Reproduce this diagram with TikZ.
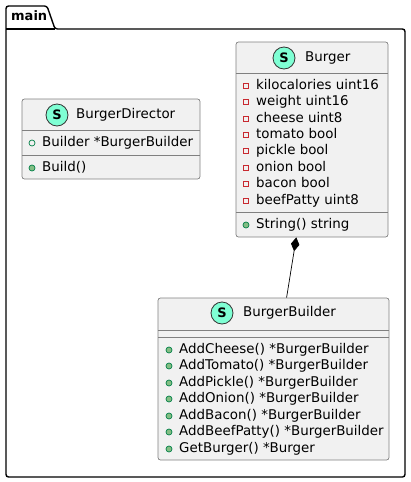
\documentclass[tikz,border=0pt]{standalone}
\usepackage{fontspec}
\setmainfont{DejaVu Sans}
\usetikzlibrary{arrows.meta}

\definecolor{boxfill}{HTML}{F1F1F1}
\definecolor{boxline}{HTML}{808080}
\definecolor{spotfill}{HTML}{7FFFD4}
\definecolor{privline}{HTML}{C82930}
\definecolor{publine}{HTML}{038048}
\definecolor{pubfill}{HTML}{84BE84}

\begin{document}
\begin{tikzpicture}[x=1pt,y=-1pt]
  \tikzset{
    class box/.style={draw=boxline, fill=boxfill, line width=0.7pt, rounded corners=2.5pt, inner sep=0},
    spot/.style={circle, draw=black!80, fill=spotfill, line width=0.8pt, minimum size=22pt, inner sep=0, font=\fontsize{13}{13}\selectfont\bfseries},
    row/.style={anchor=west, inner sep=0, text height=10.5pt, text depth=3pt, font=\fontsize{13.4}{15}\selectfont},
    priv/.style={rectangle, draw=privline, line width=0.7pt, minimum size=5.5pt, inner sep=0},
    pub/.style={circle, draw=publine, fill=pubfill, line width=0.7pt, minimum size=6pt, inner sep=0},
    pubfield/.style={circle, draw=publine, fill=none, line width=0.7pt, minimum size=6pt, inner sep=0},
    thin arc/.style={-{Diamond[length=14pt,width=8.5pt]}, black, line width=0.7pt}
  }
  \useasboundingbox (0,0) rectangle (411,482);

  % package
  \draw[black, line width=1.4pt, rounded corners=2.5pt]
    (6,29) -- (6,6) -- (47,6) -- (55,29) -- (405,29) -- (405,477) -- (6,477) -- cycle;
  \draw[black, line width=1.4pt] (6,29) -- (55,29);
  \node[row, font=\fontsize{13}{15}\selectfont\bfseries] (main) at (11,17) {main};

  % classes
  \node[class box, minimum width=178pt, minimum height=80pt] (director) at (111,139) {};
  \node[class box, minimum width=152pt, minimum height=195pt] (burger) at (312,139.5) {};
  \node[class box, minimum width=231pt, minimum height=162pt] (builder) at (273.5,379) {};

  \draw[boxline, line width=0.7pt] (22,130) -- (200,130);
  \draw[boxline, line width=0.7pt] (22,155) -- (200,155);
  \draw[boxline, line width=0.7pt] (236,73) -- (388,73);
  \draw[boxline, line width=0.7pt] (236,212.5) -- (388,212.5);
  \draw[boxline, line width=0.7pt] (158,330) -- (389,330);
  \draw[boxline, line width=0.7pt] (158,337) -- (389,337);

  \node[spot] (directorspot) at (57,115) {S};
  \node[spot] (burgerspot) at (284,58) {S};
  \node[spot] (builderspot) at (222,313) {S};

  \node[row] (directorname) at (76,115) {BurgerDirector};
  \node[row] (burgername) at (305,58) {Burger};
  \node[row] (buildername) at (243,313) {BurgerBuilder};

  % BurgerDirector
  \node[pubfield] (d1) at (32,143) {};
  \node[row] (dt1) at (42,143) {Builder *BurgerBuilder};
  \node[pub] (d2) at (32,168) {};
  \node[row] (dt2) at (42,168) {Build()};

  % Burger
  \foreach \i/\ypos/\txt in {1/86/kilocalories uint16, 2/102/weight uint16, 3/119/cheese uint8,
      4/135/tomato bool, 5/151/pickle bool, 6/168/onion bool, 7/184/bacon bool, 8/201/beefPatty uint8}
  {
    \node[priv] (b\i) at (246,\ypos) {};
    \node[row] (bt\i) at (256,\ypos) {\txt};
  }
  \node[pub] (b9) at (246,225) {};
  \node[row] (bt9) at (256,225) {String() string};

  % BurgerBuilder
  \foreach \i/\ypos/\txt in {1/350/AddCheese() *BurgerBuilder, 2/366/AddTomato() *BurgerBuilder,
      3/383/AddPickle() *BurgerBuilder, 4/399/AddOnion() *BurgerBuilder, 5/416/AddBacon() *BurgerBuilder,
      6/432/AddBeefPatty() *BurgerBuilder, 7/449/GetBurger() *Burger}
  {
    \node[pub] (m\i) at (169,\ypos) {};
    \node[row] (mt\i) at (179,\ypos) {\txt};
  }

  \draw[thin arc] (builder) -- (burger);
\end{tikzpicture}
\end{document}
